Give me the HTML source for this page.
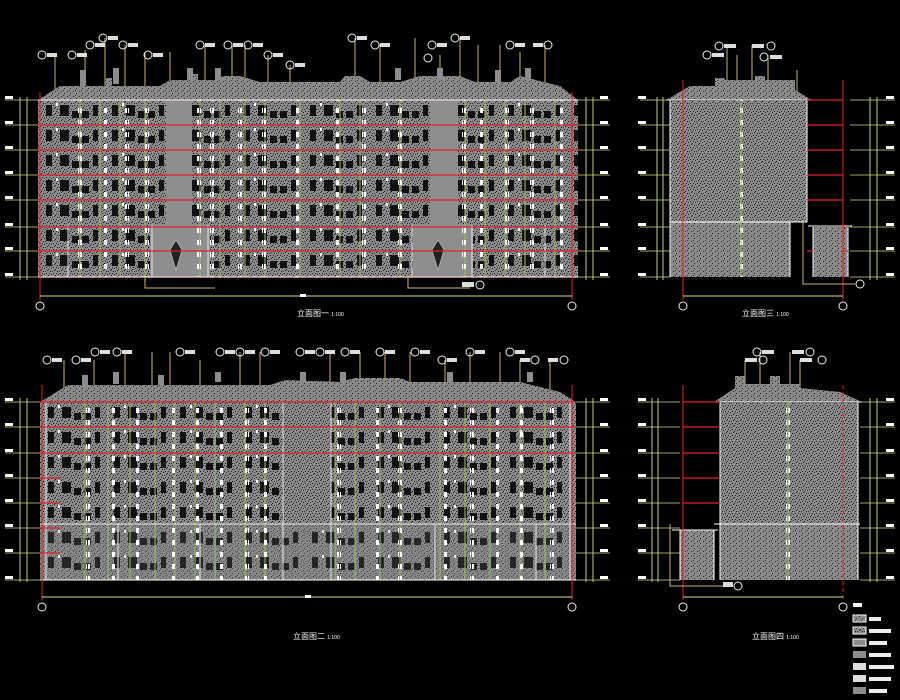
<!DOCTYPE html>
<html><head><meta charset="utf-8"><style>
html,body{margin:0;padding:0;background:#000;}
svg{display:block;font-family:"Liberation Sans","Noto Sans CJK SC",sans-serif;}
</style></head><body>
<svg width="900" height="700" viewBox="0 0 900 700" xmlns="http://www.w3.org/2000/svg">
<defs>
<pattern id="noise" width="7" height="6" patternUnits="userSpaceOnUse">
<rect width="7" height="6" fill="#8c8c8c"/>
<rect x="1" y="1" width="1" height="1" fill="#111"/>
<rect x="4" y="3" width="1" height="1" fill="#111"/>
<rect x="5" y="0" width="1" height="1" fill="#222"/>
<rect x="2" y="4" width="1" height="1" fill="#222"/>
<rect x="6" y="5" width="1" height="1" fill="#111"/>
<rect x="0" y="3" width="1" height="1" fill="#222"/>
<rect x="3" y="1" width="1" height="1" fill="#333"/>
</pattern>
<pattern id="noise2" width="6" height="5" patternUnits="userSpaceOnUse">
<rect width="6" height="5" fill="#8a8a8a"/>
<rect x="1" y="1" width="1" height="1" fill="#222"/>
<rect x="4" y="3" width="1" height="1" fill="#222"/>
<rect x="3" y="0" width="1" height="1" fill="#333"/>
</pattern>
<pattern id="win" x="38" y="100" width="66" height="25" patternUnits="userSpaceOnUse">
<rect x="8" y="5" width="6" height="11" fill="#111"/>
<rect x="22" y="5" width="9" height="11" fill="#111"/>
<rect x="34" y="11" width="7" height="7" fill="#111"/>
<rect x="44" y="11" width="7" height="7" fill="#111"/>
<rect x="55" y="5" width="5" height="11" fill="#111"/>
<rect x="18" y="3" width="2" height="3" fill="#fff"/>
</pattern>
<pattern id="win2" x="40" y="402" width="66" height="25" patternUnits="userSpaceOnUse">
<rect x="8" y="5" width="6" height="11" fill="#111"/>
<rect x="22" y="5" width="9" height="11" fill="#111"/>
<rect x="34" y="11" width="7" height="7" fill="#111"/>
<rect x="44" y="11" width="7" height="7" fill="#111"/>
<rect x="55" y="5" width="5" height="11" fill="#111"/>
<rect x="18" y="3" width="2" height="3" fill="#fff"/>
</pattern>
<pattern id="dash" width="4" height="12" patternUnits="userSpaceOnUse">
<rect width="3" height="5" fill="#fff"/>
</pattern>
</defs>

<!-- ================= TOP LEFT ================= -->
<g>
<g stroke="#c9b46a" stroke-width="1" fill="none">
<path d="M55 55V100M85 50V100M105 38V100M125 45V100M145 52V100M170 52V100M205 45V100M232 45V100M245 45V100M268 55V100M290 65V100M355 38V100M380 45V100M415 38V100M440 55V100M460 38V100M478 45V100M500 45V100M520 52V100M545 45V100"/>
</g>
<g fill="none" stroke="#eee" stroke-width="1">
<circle cx="42" cy="55" r="4"/><circle cx="72" cy="55" r="4"/><circle cx="90" cy="45" r="4"/><circle cx="103" cy="38" r="4"/><circle cx="123" cy="45" r="4"/><circle cx="148" cy="55" r="4"/><circle cx="200" cy="45" r="4"/><circle cx="228" cy="45" r="4"/><circle cx="248" cy="45" r="4"/><circle cx="268" cy="55" r="4"/><circle cx="352" cy="38" r="4"/><circle cx="375" cy="45" r="4"/><circle cx="432" cy="45" r="4"/><circle cx="455" cy="38" r="4"/><circle cx="510" cy="45" r="4"/><circle cx="548" cy="45" r="4"/><circle cx="428" cy="58" r="4"/><circle cx="290" cy="65" r="4"/>
</g>
<g fill="#ddd">
<rect x="47" y="53" width="10" height="4"/><rect x="77" y="53" width="10" height="4"/><rect x="95" y="43" width="10" height="4"/><rect x="108" y="36" width="10" height="4"/><rect x="128" y="43" width="10" height="4"/><rect x="153" y="53" width="10" height="4"/><rect x="205" y="43" width="10" height="4"/><rect x="233" y="43" width="10" height="4"/><rect x="253" y="43" width="10" height="4"/><rect x="273" y="53" width="10" height="4"/><rect x="357" y="36" width="10" height="4"/><rect x="380" y="43" width="10" height="4"/><rect x="437" y="43" width="10" height="4"/><rect x="460" y="36" width="10" height="4"/><rect x="515" y="43" width="10" height="4"/><rect x="533" y="43" width="10" height="4"/><rect x="295" y="63" width="10" height="4"/>
</g>
<polygon points="38,100 60,86 105,86 105,78 112,78 112,86 160,86 170,80 190,80 190,74 198,74 198,80 220,80 222,76 240,76 260,82 340,82 345,76 360,76 370,82 400,82 420,76 460,76 475,82 510,82 520,76 560,86 578,100" fill="url(#noise2)"/>
<g fill="#8c8c8c"><rect x="80" y="70" width="6" height="16"/><rect x="113" y="68" width="6" height="16"/><rect x="187" y="68" width="6" height="12"/><rect x="215" y="68" width="6" height="12"/><rect x="395" y="68" width="6" height="12"/><rect x="437" y="68" width="6" height="12"/><rect x="495" y="70" width="6" height="12"/><rect x="525" y="68" width="6" height="12"/></g>
<rect x="38" y="100" width="540" height="177" fill="url(#noise)"/>
<rect x="38" y="100" width="540" height="177" fill="url(#win)"/>
<rect x="166" y="100" width="26" height="177" fill="#8e8e8e"/>
<rect x="430" y="100" width="28" height="177" fill="#8e8e8e"/>
<rect x="150" y="225" width="60" height="52" fill="#8e8e8e"/>
<rect x="413" y="225" width="60" height="52" fill="#8e8e8e"/>
<path d="M170 250L176 240L182 250L176 270Z M432 250L438 240L444 250L438 270Z" fill="#222" stroke="#ccc" stroke-width="0.6"/>
<g stroke="#9fc060" stroke-width="1">
<path d="M80 100V277M100 100V277M120 100V277M145 100V277M200 100V277M220 100V277M245 100V277M265 100V277M300 100V277M340 100V277M360 100V277M400 100V277M465 100V277M485 100V277M505 100V277M525 100V277M555 100V277"/>
</g>
<g fill="url(#dash)">
<rect x="78" y="100" width="4" height="177"/><rect x="103" y="100" width="4" height="177"/><rect x="125" y="100" width="4" height="177"/><rect x="145" y="100" width="4" height="177"/><rect x="197" y="100" width="4" height="177"/><rect x="210" y="100" width="4" height="177"/><rect x="238" y="100" width="4" height="177"/><rect x="262" y="100" width="4" height="177"/><rect x="295" y="100" width="4" height="177"/><rect x="335" y="100" width="4" height="177"/><rect x="362" y="100" width="4" height="177"/><rect x="398" y="100" width="4" height="177"/><rect x="462" y="100" width="4" height="177"/><rect x="480" y="100" width="4" height="177"/><rect x="505" y="100" width="4" height="177"/><rect x="530" y="100" width="4" height="177"/><rect x="560" y="100" width="4" height="177"/>
</g>
<g stroke="#e8e8e8" stroke-width="1"><path d="M68 225V277M152 225V277M208 225V277M412 225V277M472 225V277M545 225V277"/></g>
<g stroke="#e0202a" stroke-width="1.3">
<path d="M38 100H578M38 125H578M38 150H578M38 175H578M38 200H578M38 227H578M38 251H578M38 277H578"/>
</g>
<path d="M38 100L578 100" stroke="#fff" stroke-width="1"/>
<path d="M38 277H578" stroke="#fff" stroke-width="1"/>
<line x1="40" y1="92" x2="40" y2="300" stroke="#e0202a" stroke-width="1"/>
<line x1="572" y1="92" x2="572" y2="300" stroke="#e0202a" stroke-width="1"/>
<g stroke="#b8d070" stroke-width="1" fill="none">
<path d="M20 97V280M27 97V280M586 97V280M593 97V280"/>
</g>
<g fill="#fff">
<rect x="5" y="96" width="8" height="3"/><rect x="5" y="121" width="8" height="3"/><rect x="5" y="146" width="8" height="3"/><rect x="5" y="171" width="8" height="3"/><rect x="5" y="196" width="8" height="3"/><rect x="5" y="223" width="8" height="3"/><rect x="5" y="247" width="8" height="3"/><rect x="5" y="273" width="8" height="3"/>
<rect x="600" y="96" width="8" height="3"/><rect x="600" y="121" width="8" height="3"/><rect x="600" y="146" width="8" height="3"/><rect x="600" y="171" width="8" height="3"/><rect x="600" y="196" width="8" height="3"/><rect x="600" y="223" width="8" height="3"/><rect x="600" y="247" width="8" height="3"/><rect x="600" y="273" width="8" height="3"/>
</g>
<g stroke="#cde08a" stroke-width="0.8"><path d="M5 100H38M5 125H38M5 150H38M5 175H38M5 200H38M5 227H38M5 251H38M5 277H38M578 100H610M578 125H610M578 150H610M578 175H610M578 200H610M578 227H610M578 251H610M578 277H610"/></g>
<line x1="40" y1="296" x2="572" y2="296" stroke="#cde08a" stroke-width="1"/>
<g fill="none" stroke="#eee"><circle cx="40" cy="306" r="4"/><circle cx="572" cy="306" r="4"/></g>
<path d="M145 277V288H215M408 277V288H470" stroke="#c9b46a" fill="none"/>
<circle cx="480" cy="285" r="4" fill="none" stroke="#eee"/><rect x="462" y="282" width="12" height="5" fill="#ddd"/>
<rect x="300" y="294" width="6" height="3" fill="#fff"/>
<text x="297" y="316" font-size="8" fill="#fff">立面图一 <tspan font-size="5">1:100</tspan></text>
</g>

<!-- ================= TOP RIGHT ================= -->
<g>
<g stroke="#c9b46a" fill="none"><path d="M727 45V277M737 55V277M752 45V277M768 55V277M797 70V95"/></g>
<g fill="none" stroke="#eee"><circle cx="719" cy="46" r="4"/><circle cx="707" cy="55" r="4"/><circle cx="771" cy="46" r="4"/><circle cx="764" cy="57" r="4"/></g>
<g fill="#ddd"><rect x="724" y="44" width="12" height="4"/><rect x="712" y="53" width="12" height="4"/><rect x="752" y="44" width="12" height="4"/><rect x="770" y="55" width="12" height="4"/></g>
<polygon points="666,100 690,86 715,86 715,78 725,78 725,80 755,80 755,76 765,76 765,80 795,80 795,90 812,100" fill="url(#noise2)"/>
<rect x="670" y="101" width="137" height="121" fill="url(#noise)"/>
<rect x="670" y="222" width="120" height="55" fill="url(#noise2)"/>
<rect x="813" y="227" width="35" height="50" fill="url(#noise2)"/>
<path d="M666 100H812M670 100V277M807 100V222M670 222H807M790 222V277M813 227V277M848 227V277M808 226H852" stroke="#fff" fill="none" stroke-width="1"/>
<rect x="739" y="100" width="4" height="177" fill="url(#dash)"/>
<line x1="741" y1="100" x2="741" y2="277" stroke="#9fc060"/>
<g stroke="#e0202a" stroke-width="1.3"><path d="M807 100H843M807 125H843M807 150H843M807 175H843M807 200H843M848 227H843M807 251H813M848 251H843"/></g>
<line x1="683" y1="80" x2="683" y2="300" stroke="#e0202a"/>
<line x1="843" y1="80" x2="843" y2="300" stroke="#e0202a"/>
<g stroke="#b8d070" fill="none"><path d="M657 97V280M663 97V280M870 97V280M877 97V280"/></g>
<g stroke="#cde08a" stroke-width="0.8"><path d="M640 100H670M640 125H670M640 150H670M640 175H670M640 200H670M640 227H670M640 251H670M640 277H670M850 100H895M850 125H895M850 150H895M850 175H895M850 200H895M850 227H895M850 251H895M850 277H895"/></g>
<g fill="#fff"><rect x="638" y="96" width="8" height="3"/><rect x="638" y="121" width="8" height="3"/><rect x="638" y="146" width="8" height="3"/><rect x="638" y="171" width="8" height="3"/><rect x="638" y="196" width="8" height="3"/><rect x="638" y="223" width="8" height="3"/><rect x="638" y="247" width="8" height="3"/><rect x="638" y="273" width="8" height="3"/><rect x="886" y="96" width="8" height="3"/><rect x="886" y="121" width="8" height="3"/><rect x="886" y="146" width="8" height="3"/><rect x="886" y="171" width="8" height="3"/><rect x="886" y="196" width="8" height="3"/><rect x="886" y="223" width="8" height="3"/><rect x="886" y="247" width="8" height="3"/><rect x="886" y="273" width="8" height="3"/></g>
<path d="M803 220V284H855" stroke="#c9b46a" fill="none"/>
<circle cx="860" cy="284" r="4" fill="none" stroke="#eee"/>
<line x1="683" y1="296" x2="843" y2="296" stroke="#cde08a"/>
<g fill="none" stroke="#eee"><circle cx="683" cy="306" r="4"/><circle cx="843" cy="306" r="4"/></g>
<text x="742" y="316" font-size="8" fill="#fff">立面图三 <tspan font-size="5">1:100</tspan></text>
</g>

<!-- ================= BOTTOM LEFT ================= -->
<g>
<g stroke="#c9b46a" fill="none"><path d="M64 360V402M94 360V402M125 352V402M152 352V402M170 352V402M200 360V402M240 352V402M260 352V402M330 352V402M360 352V402M385 352V402M410 352V402M445 360V402M470 352V402M500 352V402M520 360V402M550 360V402"/></g>
<g fill="none" stroke="#eee"><circle cx="47" cy="360" r="4"/><circle cx="76" cy="360" r="4"/><circle cx="95" cy="352" r="4"/><circle cx="117" cy="352" r="4"/><circle cx="180" cy="352" r="4"/><circle cx="220" cy="352" r="4"/><circle cx="240" cy="352" r="4"/><circle cx="265" cy="352" r="4"/><circle cx="300" cy="352" r="4"/><circle cx="320" cy="352" r="4"/><circle cx="345" cy="352" r="4"/><circle cx="380" cy="352" r="4"/><circle cx="415" cy="352" r="4"/><circle cx="442" cy="360" r="4"/><circle cx="470" cy="352" r="4"/><circle cx="510" cy="352" r="4"/><circle cx="535" cy="360" r="4"/><circle cx="564" cy="360" r="4"/></g>
<g fill="#ddd"><rect x="52" y="358" width="10" height="4"/><rect x="81" y="358" width="10" height="4"/><rect x="100" y="350" width="10" height="4"/><rect x="122" y="350" width="10" height="4"/><rect x="185" y="350" width="10" height="4"/><rect x="225" y="350" width="10" height="4"/><rect x="245" y="350" width="10" height="4"/><rect x="270" y="350" width="10" height="4"/><rect x="305" y="350" width="10" height="4"/><rect x="325" y="350" width="10" height="4"/><rect x="350" y="350" width="10" height="4"/><rect x="385" y="350" width="10" height="4"/><rect x="420" y="350" width="10" height="4"/><rect x="447" y="358" width="10" height="4"/><rect x="475" y="350" width="10" height="4"/><rect x="515" y="350" width="10" height="4"/><rect x="520" y="358" width="10" height="4"/><rect x="548" y="358" width="10" height="4"/></g>
<polygon points="40,402 68,385 270,385 285,380 340,382 355,378 400,378 410,382 520,382 560,392 576,402" fill="url(#noise2)"/>
<g fill="#8c8c8c"><rect x="82" y="375" width="6" height="12"/><rect x="113" y="372" width="6" height="12"/><rect x="158" y="375" width="6" height="10"/><rect x="215" y="372" width="6" height="10"/><rect x="300" y="372" width="6" height="10"/><rect x="340" y="372" width="6" height="10"/><rect x="447" y="372" width="6" height="10"/><rect x="527" y="372" width="6" height="10"/></g>
<rect x="40" y="402" width="536" height="178" fill="url(#noise)"/>
<rect x="40" y="402" width="536" height="178" fill="url(#win2)"/>
<rect x="283" y="403" width="48" height="120" fill="url(#noise)"/>
<rect x="40" y="524" width="536" height="56" fill="url(#noise2)" opacity="0.6"/>
<rect x="40" y="524" width="536" height="56" fill="url(#win2)" opacity="0.7"/>
<g stroke="#9fc060"><path d="M85 402V580M108 402V580M130 402V580M155 402V580M175 402V580M195 402V580M215 402V580M245 402V580M265 402V580M335 402V580M355 402V580M380 402V580M400 402V580M440 402V580M465 402V580M490 402V580M520 402V580M545 402V580"/></g>
<g fill="url(#dash)"><rect x="86" y="402" width="4" height="178"/><rect x="112" y="402" width="4" height="178"/><rect x="135" y="402" width="4" height="178"/><rect x="172" y="402" width="4" height="178"/><rect x="196" y="402" width="4" height="178"/><rect x="220" y="402" width="4" height="178"/><rect x="245" y="402" width="4" height="178"/><rect x="263" y="402" width="4" height="178"/><rect x="337" y="402" width="4" height="178"/><rect x="375" y="402" width="4" height="178"/><rect x="398" y="402" width="4" height="178"/><rect x="443" y="402" width="4" height="178"/><rect x="470" y="402" width="4" height="178"/><rect x="495" y="402" width="4" height="178"/><rect x="520" y="402" width="4" height="178"/><rect x="550" y="402" width="4" height="178"/></g>
<g stroke="#e8e8e8" fill="none"><path d="M40 524H576M46 402V580M283 402V580M331 402V580M570 402V580M118 524V580M200 524V580M435 524V580M536 524V580"/></g>
<g stroke="#e0202a" stroke-width="1.3"><path d="M40 402H576M40 427H576M40 453H576M40 478H60M40 503H60M40 528H60M40 553H60"/></g>
<path d="M40 580H576" stroke="#fff"/>
<line x1="42" y1="385" x2="42" y2="600" stroke="#e0202a"/>
<line x1="572" y1="385" x2="572" y2="600" stroke="#e0202a"/>
<g stroke="#b8d070" fill="none"><path d="M20 398V582M27 398V582M586 398V582M593 398V582"/></g>
<g stroke="#cde08a" stroke-width="0.8"><path d="M5 402H40M5 427H40M5 453H40M5 478H40M5 503H40M5 528H40M5 553H40M5 580H40M576 402H610M576 427H610M576 453H610M576 478H610M576 503H610M576 528H610M576 553H610M576 580H610"/></g>
<g fill="#fff"><rect x="5" y="398" width="8" height="3"/><rect x="5" y="423" width="8" height="3"/><rect x="5" y="449" width="8" height="3"/><rect x="5" y="474" width="8" height="3"/><rect x="5" y="499" width="8" height="3"/><rect x="5" y="524" width="8" height="3"/><rect x="5" y="549" width="8" height="3"/><rect x="5" y="576" width="8" height="3"/><rect x="600" y="398" width="8" height="3"/><rect x="600" y="423" width="8" height="3"/><rect x="600" y="449" width="8" height="3"/><rect x="600" y="474" width="8" height="3"/><rect x="600" y="499" width="8" height="3"/><rect x="600" y="524" width="8" height="3"/><rect x="600" y="549" width="8" height="3"/><rect x="600" y="576" width="8" height="3"/></g>
<line x1="42" y1="597" x2="572" y2="597" stroke="#cde08a"/>
<g fill="none" stroke="#eee"><circle cx="42" cy="607" r="4"/><circle cx="572" cy="607" r="4"/></g>
<rect x="305" y="595" width="6" height="3" fill="#fff"/>
<text x="293" y="639" font-size="8" fill="#fff">立面图二 <tspan font-size="5">1:100</tspan></text>
</g>

<!-- ================= BOTTOM RIGHT ================= -->
<g>
<g stroke="#c9b46a" fill="none"><path d="M745 360V580M760 352V580M790 352V580M800 360V580"/></g>
<g fill="none" stroke="#eee"><circle cx="757" cy="352" r="4"/><circle cx="763" cy="360" r="4"/><circle cx="810" cy="352" r="4"/><circle cx="822" cy="360" r="4"/></g>
<g fill="#ddd"><rect x="762" y="350" width="12" height="4"/><rect x="745" y="358" width="12" height="4"/><rect x="792" y="350" width="12" height="4"/><rect x="800" y="358" width="12" height="4"/></g>
<polygon points="714,402 735,388 735,376 745,376 745,384 770,384 770,376 780,376 780,384 800,384 800,388 840,392 862,402" fill="url(#noise2)"/>
<rect x="720" y="403" width="138" height="121" fill="url(#noise)"/>
<rect x="720" y="524" width="138" height="56" fill="url(#noise2)"/>
<rect x="680" y="530" width="34" height="50" fill="url(#noise2)"/>
<path d="M714 402H862M720 402V580M858 402V580M714 524H860M714 530V580M680 530V580M672 530H718" stroke="#fff" fill="none"/>
<rect x="786" y="402" width="4" height="178" fill="url(#dash)"/>
<line x1="788" y1="402" x2="788" y2="580" stroke="#9fc060"/>
<g stroke="#e0202a" stroke-width="1.3"><path d="M683 402H720M683 427H720M683 453H720M683 478H720M683 503H720"/></g>
<line x1="683" y1="385" x2="683" y2="600" stroke="#e0202a"/>
<line x1="843" y1="385" x2="843" y2="600" stroke="#e0202a" stroke-dasharray="4 3"/>
<g stroke="#b8d070" fill="none"><path d="M652 398V582M658 398V582M870 398V582M877 398V582"/></g>
<g stroke="#cde08a" stroke-width="0.8"><path d="M638 402H680M638 427H680M638 453H680M638 478H680M638 503H680M638 528H680M638 553H680M638 580H680M860 402H895M860 427H895M860 453H895M860 478H895M860 503H895M860 528H895M860 553H895M860 580H895"/></g>
<g fill="#fff"><rect x="638" y="398" width="8" height="3"/><rect x="638" y="423" width="8" height="3"/><rect x="638" y="449" width="8" height="3"/><rect x="638" y="474" width="8" height="3"/><rect x="638" y="499" width="8" height="3"/><rect x="638" y="524" width="8" height="3"/><rect x="638" y="549" width="8" height="3"/><rect x="638" y="576" width="8" height="3"/><rect x="886" y="398" width="8" height="3"/><rect x="886" y="423" width="8" height="3"/><rect x="886" y="449" width="8" height="3"/><rect x="886" y="474" width="8" height="3"/><rect x="886" y="499" width="8" height="3"/><rect x="886" y="524" width="8" height="3"/><rect x="886" y="549" width="8" height="3"/><rect x="886" y="576" width="8" height="3"/></g>
<path d="M670 524V586H725" stroke="#c9b46a" fill="none"/>
<circle cx="738" cy="586" r="4" fill="none" stroke="#eee"/><rect x="723" y="582" width="10" height="5" fill="#ddd"/>
<line x1="683" y1="597" x2="843" y2="597" stroke="#cde08a"/>
<g fill="none" stroke="#eee"><circle cx="683" cy="607" r="4"/><circle cx="843" cy="607" r="4"/></g>
<text x="752" y="639" font-size="8" fill="#fff">立面图四 <tspan font-size="5">1:100</tspan></text>
</g>

<!-- ================= LEGEND ================= -->
<g>
<rect x="853" y="603" width="9" height="4" fill="#fff"/>
<rect x="853" y="615" width="13" height="7" fill="url(#noise2)" stroke="#fff" stroke-width="1"/>
<rect x="853" y="627" width="13" height="7" fill="url(#noise)" stroke="#fff" stroke-width="1"/>
<rect x="853" y="639" width="13" height="7" fill="#8c8c8c" stroke="#fff" stroke-width="1"/>
<rect x="853" y="651" width="13" height="7" fill="#8c8c8c"/>
<rect x="853" y="663" width="13" height="7" fill="#ddd"/>
<rect x="853" y="675" width="13" height="7" fill="#ddd"/>
<rect x="853" y="687" width="13" height="7" fill="#8c8c8c"/>
<g fill="#eee"><rect x="869" y="617" width="12" height="4"/><rect x="869" y="629" width="22" height="4"/><rect x="869" y="641" width="18" height="4"/><rect x="869" y="653" width="22" height="4"/><rect x="869" y="665" width="25" height="4"/><rect x="869" y="677" width="22" height="4"/><rect x="869" y="689" width="18" height="4"/></g>
</g>
</svg>
</body></html>
